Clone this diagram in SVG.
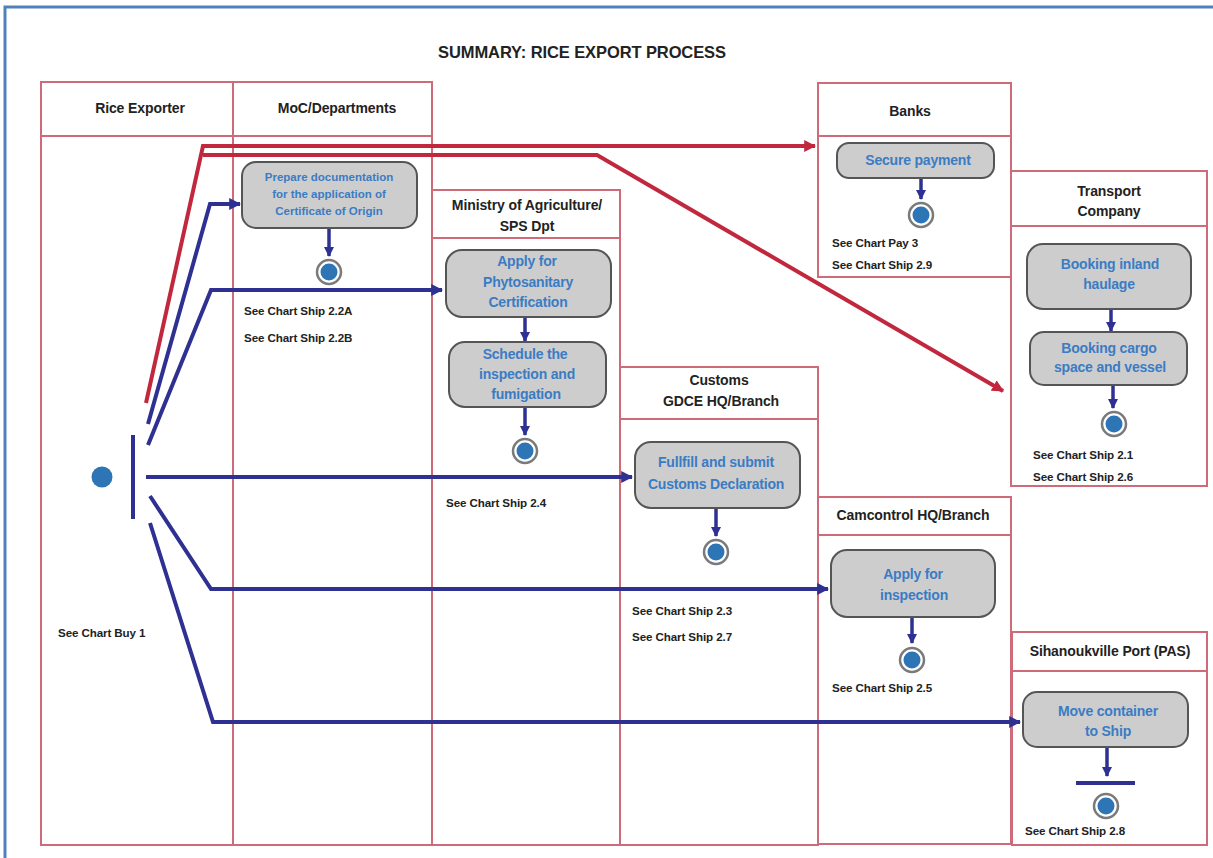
<svg xmlns="http://www.w3.org/2000/svg" width="1213" height="858" viewBox="0 0 1213 858">
  <style>
    .frame { fill: none; stroke: #4f81bd; stroke-width: 3; }
    .lane { fill: none; stroke: #cf6a78; stroke-width: 2; }
    .title { font-family: "Liberation Sans", Arial, sans-serif; font-weight: bold; font-size: 16.5px; fill: #222; text-anchor: middle; letter-spacing: -0.1px; }
    .head { font-family: "Liberation Sans", Arial, sans-serif; font-weight: bold; font-size: 14px; fill: #222; text-anchor: middle; letter-spacing: -0.1px; }
    .act { fill: #cdcdcd; stroke: #555; stroke-width: 2; }
    .atext { font-family: "Liberation Sans", Arial, sans-serif; font-weight: bold; font-size: 14px; fill: #3a7cc4; text-anchor: middle; letter-spacing: -0.2px; }
    .atext-s { font-family: "Liberation Sans", Arial, sans-serif; font-weight: bold; font-size: 11.5px; fill: #3a7cc4; text-anchor: middle; }
    .note { font-family: "Liberation Sans", Arial, sans-serif; font-weight: bold; font-size: 11.6px; fill: #222; letter-spacing: -0.1px; }
    .flow { fill: none; stroke: #2e3192; stroke-width: 4; stroke-linejoin: miter; }
    .flow-red { fill: none; stroke: #c1283e; stroke-width: 4; stroke-linejoin: miter; }
    .step { fill: none; stroke: #2e3192; stroke-width: 3.5; }
    .end-ring { fill: #fff; stroke: #7a7a7a; stroke-width: 2.5; }
    .end-dot { fill: #2e75b6; }
    .bar { stroke: #2e3192; stroke-width: 4; }
  </style>
  <defs>
    <marker id="arrow-blue" viewBox="0 0 10 10" refX="9" refY="5" markerWidth="3" markerHeight="3" orient="auto" markerUnits="strokeWidth">
      <path d="M0,0 L10,5 L0,10 z" fill="#2e3192"/>
    </marker>
    <marker id="arrow-red" viewBox="0 0 10 10" refX="9" refY="5" markerWidth="3" markerHeight="3" orient="auto" markerUnits="strokeWidth">
      <path d="M0,0 L10,5 L0,10 z" fill="#c1283e"/>
    </marker>
  </defs>

  <rect x="0" y="0" width="1213" height="858" fill="#fff"/>
  <rect class="frame" x="5" y="7" width="1212" height="856"/>

  <text class="title" x="582" y="58">SUMMARY: RICE EXPORT PROCESS</text>

  <!-- swimlanes -->
  <g id="lane-rice-exporter">
    <rect class="lane" x="41" y="82" width="192" height="763"/>
    <line class="lane" x1="41" y1="136" x2="233" y2="136"/>
    <text class="head" x="140" y="113">Rice Exporter</text>
  </g>
  <g id="lane-moc">
    <rect class="lane" x="233" y="82" width="199" height="763"/>
    <line class="lane" x1="233" y1="136" x2="432" y2="136"/>
    <text class="head" x="337" y="113">MoC/Departments</text>
  </g>
  <g id="lane-agriculture">
    <rect class="lane" x="432" y="190" width="188" height="655"/>
    <line class="lane" x1="432" y1="238" x2="620" y2="238"/>
    <text class="head" x="527" y="210">Ministry of Agriculture/</text>
    <text class="head" x="527" y="231">SPS Dpt</text>
  </g>
  <g id="lane-customs">
    <rect class="lane" x="620" y="367" width="198" height="478"/>
    <line class="lane" x1="620" y1="419" x2="818" y2="419"/>
    <text class="head" x="719" y="385">Customs</text>
    <text class="head" x="721" y="406">GDCE HQ/Branch</text>
  </g>
  <g id="lane-banks">
    <rect class="lane" x="818" y="83" width="193" height="194"/>
    <line class="lane" x1="818" y1="136" x2="1011" y2="136"/>
    <text class="head" x="910" y="116">Banks</text>
  </g>
  <g id="lane-transport">
    <rect class="lane" x="1011" y="171" width="196" height="315"/>
    <line class="lane" x1="1011" y1="226" x2="1207" y2="226"/>
    <text class="head" x="1109" y="196">Transport</text>
    <text class="head" x="1109" y="216">Company</text>
  </g>
  <g id="lane-camcontrol">
    <rect class="lane" x="818" y="497" width="193" height="347"/>
    <line class="lane" x1="818" y1="535" x2="1011" y2="535"/>
    <text class="head" x="913" y="520">Camcontrol HQ/Branch</text>
  </g>
  <g id="lane-port">
    <rect class="lane" x="1012" y="632" width="195" height="213"/>
    <line class="lane" x1="1012" y1="671" x2="1207" y2="671"/>
    <text class="head" x="1110" y="656">Sihanoukville Port (PAS)</text>
  </g>

  <!-- connectors -->
  <g id="connectors">
    <!-- fork outputs -->
    <polyline class="flow-red" points="146,403 203,146 815,146" marker-end="url(#arrow-red)"/>
    <polyline class="flow-red" points="203,155 597,155 1003,391" marker-end="url(#arrow-red)"/>
    <polyline class="flow" points="148,424 210,204 240,204" marker-end="url(#arrow-blue)"/>
    <polyline class="flow" points="148,445 211,290 442,290" marker-end="url(#arrow-blue)"/>
    <polyline class="flow" points="146,477 632,477" marker-end="url(#arrow-blue)"/>
    <polyline class="flow" points="150,496 211,589 828,589" marker-end="url(#arrow-blue)"/>
    <polyline class="flow" points="150,523 213,722 1020,722" marker-end="url(#arrow-blue)"/>
    <!-- steps within lanes -->
    <line class="step" x1="329" y1="229" x2="329" y2="256" marker-end="url(#arrow-blue)"/>
    <line class="step" x1="525" y1="318" x2="525" y2="341" marker-end="url(#arrow-blue)"/>
    <line class="step" x1="525" y1="408" x2="525" y2="435" marker-end="url(#arrow-blue)"/>
    <line class="step" x1="716" y1="509" x2="716" y2="536" marker-end="url(#arrow-blue)"/>
    <line class="step" x1="921" y1="179" x2="921" y2="199" marker-end="url(#arrow-blue)"/>
    <line class="step" x1="1111" y1="310" x2="1111" y2="331" marker-end="url(#arrow-blue)"/>
    <line class="step" x1="1113" y1="386" x2="1113" y2="408" marker-end="url(#arrow-blue)"/>
    <line class="step" x1="912" y1="618" x2="912" y2="643" marker-end="url(#arrow-blue)"/>
    <line class="step" x1="1107" y1="748" x2="1107" y2="776" marker-end="url(#arrow-blue)"/>
  </g>

  <!-- start and fork -->
  <g id="start">
    <circle cx="102" cy="477" r="10.5" fill="#2e75b6"/>
  </g>
  <g id="fork">
    <line class="bar" x1="133" y1="435" x2="133" y2="519"/>
  </g>

  <!-- activities -->
  <g id="prepare-documentation">
    <rect class="act" x="242" y="162" width="175" height="66" rx="14"/>
    <text class="atext-s" x="329" y="181">Prepare documentation</text>
    <text class="atext-s" x="329" y="198">for the application of</text>
    <text class="atext-s" x="329" y="215">Certificate of Origin</text>
  </g>
  <g id="end-moc">
    <circle class="end-ring" cx="329" cy="272" r="12"/>
    <circle class="end-dot" cx="329" cy="272" r="8.5"/>
    <text class="note" x="244" y="315">See Chart Ship 2.2A</text>
    <text class="note" x="244" y="342">See Chart Ship 2.2B</text>
  </g>

  <g id="apply-phytosanitary">
    <rect class="act" x="446" y="250" width="165" height="67" rx="16"/>
    <text class="atext" x="527" y="266">Apply for</text>
    <text class="atext" x="528" y="287">Phytosanitary</text>
    <text class="atext" x="528" y="307">Certification</text>
  </g>
  <g id="schedule-inspection">
    <rect class="act" x="449" y="342" width="157" height="65" rx="16"/>
    <text class="atext" x="525" y="359">Schedule the</text>
    <text class="atext" x="527" y="379">inspection and</text>
    <text class="atext" x="526" y="399">fumigation</text>
  </g>
  <g id="end-agriculture">
    <circle class="end-ring" cx="525" cy="451" r="12"/>
    <circle class="end-dot" cx="525" cy="451" r="8.5"/>
    <text class="note" x="446" y="507">See Chart Ship 2.4</text>
  </g>

  <g id="customs-declaration">
    <rect class="act" x="635" y="442" width="165" height="66" rx="16"/>
    <text class="atext" x="716" y="467">Fullfill and submit</text>
    <text class="atext" x="716" y="489">Customs Declaration</text>
  </g>
  <g id="end-customs">
    <circle class="end-ring" cx="716" cy="552" r="12"/>
    <circle class="end-dot" cx="716" cy="552" r="8.5"/>
    <text class="note" x="632" y="615">See Chart Ship 2.3</text>
    <text class="note" x="632" y="641">See Chart Ship 2.7</text>
  </g>

  <g id="secure-payment">
    <rect class="act" x="837" y="143" width="157" height="35" rx="12"/>
    <text class="atext" x="918" y="165">Secure payment</text>
  </g>
  <g id="end-banks">
    <circle class="end-ring" cx="921" cy="215" r="12"/>
    <circle class="end-dot" cx="921" cy="215" r="8.5"/>
    <text class="note" x="832" y="247">See Chart Pay 3</text>
    <text class="note" x="832" y="269">See Chart Ship 2.9</text>
  </g>

  <g id="booking-haulage">
    <rect class="act" x="1027" y="244" width="164" height="65" rx="16"/>
    <text class="atext" x="1110" y="269">Booking inland</text>
    <text class="atext" x="1109" y="289">haulage</text>
  </g>
  <g id="booking-cargo">
    <rect class="act" x="1030" y="332" width="157" height="53" rx="14"/>
    <text class="atext" x="1109" y="353">Booking cargo</text>
    <text class="atext" x="1110" y="372">space and vessel</text>
  </g>
  <g id="end-transport">
    <circle class="end-ring" cx="1114" cy="424" r="12"/>
    <circle class="end-dot" cx="1114" cy="424" r="8.5"/>
    <text class="note" x="1033" y="459">See Chart Ship 2.1</text>
    <text class="note" x="1033" y="481">See Chart Ship 2.6</text>
  </g>

  <g id="apply-inspection">
    <rect class="act" x="831" y="550" width="164" height="67" rx="16"/>
    <text class="atext" x="913" y="579">Apply for</text>
    <text class="atext" x="914" y="600">inspection</text>
  </g>
  <g id="end-camcontrol">
    <circle class="end-ring" cx="912" cy="660" r="12"/>
    <circle class="end-dot" cx="912" cy="660" r="8.5"/>
    <text class="note" x="832" y="692">See Chart Ship 2.5</text>
  </g>

  <g id="move-container">
    <rect class="act" x="1023" y="692" width="165" height="55" rx="14"/>
    <text class="atext" x="1108" y="716">Move container</text>
    <text class="atext" x="1108" y="736">to Ship</text>
  </g>
  <g id="join-port">
    <line class="bar" x1="1076" y1="783" x2="1135" y2="783" stroke-width="3"/>
  </g>
  <g id="end-port">
    <circle class="end-ring" cx="1106" cy="806" r="12"/>
    <circle class="end-dot" cx="1106" cy="806" r="8.5"/>
    <text class="note" x="1025" y="835">See Chart Ship 2.8</text>
  </g>

  <g id="rice-exporter-note">
    <text class="note" x="58" y="637">See Chart Buy 1</text>
  </g>
</svg>
